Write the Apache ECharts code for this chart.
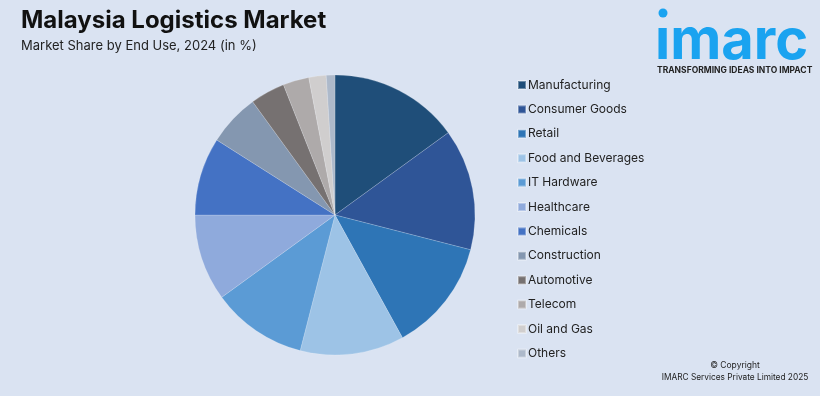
<!DOCTYPE html>
<html><head><meta charset="utf-8">
<script src="https://cdn.jsdelivr.net/npm/echarts@6/dist/echarts.min.js"></script>
<style>html,body{margin:0;padding:0;background:#dae3f2;}#c{width:820px;height:396px;}</style>
</head><body><div id="c"></div>
<script>
const categories = ["Manufacturing","Consumer Goods","Retail","Food and Beverages","IT Hardware","Healthcare","Chemicals","Construction","Automotive","Telecom","Oil and Gas","Others"];
const shares = [15,14,13,12,11,10,9,6,4,3,2,1];
const colors = ["#1f4e79","#2f5597","#2e75b6","#9dc3e6","#5b9bd5","#8faadc","#4472c4","#8497b0","#767171","#aeaaaa","#d0cece","#adb9ca"];
const chart = echarts.init(document.getElementById('c'));
chart.setOption({
  backgroundColor:'#dae3f2',
  animation:false,
  title:[
    {text:'Malaysia Logistics Market',left:21,top:9,padding:0,textStyle:{fontFamily:'Inter',fontWeight:'bold',fontSize:24,color:'#111'}},
    {text:'Market Share by End Use, 2024 (in %)',left:21,top:40,padding:0,textStyle:{fontFamily:'Inter',fontWeight:'normal',fontSize:13,color:'#222'}}
  ],
  legend:{orient:'vertical',left:512,top:74,itemWidth:8,itemHeight:8,itemGap:12.4,icon:'rect',
    textStyle:{fontFamily:'Inter',fontSize:12,color:'#222',padding:[0,0,0,-3]},data:categories},
  series:[{type:'pie',center:[335,215],radius:[0,140],startAngle:90,clockwise:true,
    label:{show:false},labelLine:{show:false},
    itemStyle:{borderColor:'rgba(255,255,255,0.35)',borderWidth:0.5},
    data:categories.map((n,i)=>({name:n,value:shares[i],itemStyle:{color:colors[i]}}))}],
  graphic:[
    {type:'circle',shape:{cx:663,cy:13,r:4.5},style:{fill:'#1aa3f0'}},
    {type:'text',x:655,y:70,style:{text:'\u0131marc',font:'bold 56px Inter',fill:'#1aa3f0',verticalAlign:'bottom'}},
    {type:'text',left:657,top:66,style:{text:'TRANSFORMING IDEAS INTO IMPACT',font:'bold 8.5px Inter',fill:'#222'}},
    {type:'text',x:735,y:361,style:{text:'© Copyright',font:'8.5px Inter',fill:'#222',align:'center'}},
    {type:'text',x:735,y:374,style:{text:'IMARC Services Private Limited 2025',font:'8.3px Inter',fill:'#222',align:'center'}}
  ]
});
</script></body></html>
